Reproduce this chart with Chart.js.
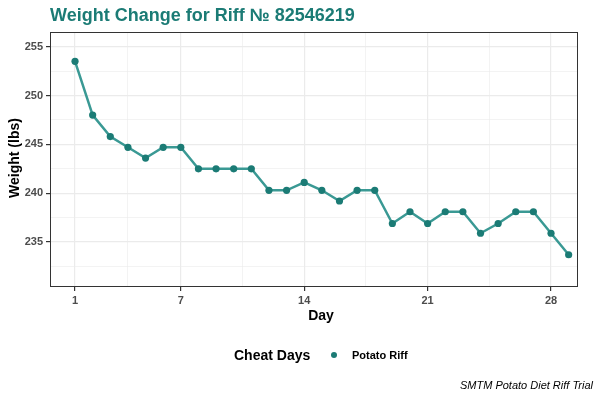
<!DOCTYPE html>
<html>
<head>
<meta charset="utf-8">
<script src="https://cdn.jsdelivr.net/npm/chart.js@4"></script>
<style>
  html, body { margin: 0; padding: 0; background: #fff; }
  #wrap { width: 600px; height: 400px; position: relative; }
</style>
</head>
<body>
<div id="wrap"><canvas id="weightChart"></canvas></div>
<script>
const days = [1,2,3,4,5,6,7,8,9,10,11,12,13,14,15,16,17,18,19,20,21,22,23,24,25,26,27,28,29];
const weights = [253.5,248.0,245.8,244.7,243.6,244.7,244.7,242.5,242.5,242.5,242.5,240.3,240.3,241.1,240.3,239.2,240.3,240.3,236.9,238.1,236.9,238.1,238.1,235.9,236.9,238.1,238.1,235.9,233.7];
const xMajor = [1,7,14,21,28];
const xMinor = [4,10.5,17.5,24.5];
const yMajor = [235,240,245,250,255];
const yMinor = [232.5,237.5,242.5,247.5,252.5];

const teal = '#1b7b75';
const font = 'Liberation Sans, Arial, Helvetica, sans-serif';

// ggplot-ish text around the panel
const extras = {
  id: 'extras',
  afterDraw(chart) {
    const ctx = chart.ctx;
    const a = chart.chartArea;
    ctx.save();
    // panel border
    ctx.strokeStyle = '#333333';
    ctx.lineWidth = 1;
    ctx.strokeRect(a.left + 0.5, a.top + 0.5, a.right - a.left - 1, a.bottom - a.top - 1);

    ctx.fillStyle = teal;
    ctx.font = 'bold 18px ' + font;
    ctx.textBaseline = 'alphabetic';
    ctx.textAlign = 'left';
    ctx.fillText('Weight Change for Riff \u2116 82546219', a.left, 21);

    // axis titles
    ctx.fillStyle = '#000';
    ctx.font = 'bold 14px ' + font;
    ctx.textAlign = 'center';
    ctx.fillText('Day', 321, 320);
    ctx.save();
    ctx.translate(19, 158);
    ctx.rotate(-Math.PI / 2);
    ctx.fillText('Weight (lbs)', 0, 0);
    ctx.restore();

    // legend
    ctx.textAlign = 'left';
    ctx.fillText('Cheat Days', 234, 360);
    ctx.fillStyle = teal;
    ctx.beginPath();
    ctx.arc(334, 355, 3, 0, Math.PI * 2);
    ctx.fill();
    ctx.fillStyle = '#000';
    ctx.font = 'bold 11px ' + font;
    ctx.fillText('Potato Riff', 352, 359);

    // caption
    ctx.font = 'italic 11px ' + font;
    ctx.textAlign = 'right';
    ctx.fillText('SMTM Potato Diet Riff Trial', 593, 389);
    ctx.restore();
  }
};

const gridStyle = (majors) => ({
  color: '#ebebeb',
  lineWidth: (c) => majors.includes(c.tick && c.tick.value) ? 1.2 : 0.6,
  tickColor: (c) => majors.includes(c.tick && c.tick.value) ? '#333333' : 'rgba(0,0,0,0)',
  tickLength: 4,
  drawTicks: true
});

new Chart(document.getElementById('weightChart'), {
  type: 'line',
  data: {
    labels: days,
    datasets: [{
      label: 'Potato Riff',
      data: days.map((d, i) => ({ x: d, y: weights[i] })),
      borderColor: '#3a9994',
      borderWidth: 2.5,
      backgroundColor: teal,
      pointBackgroundColor: teal,
      pointBorderWidth: 0,
      pointRadius: 3.6,
      tension: 0
    }]
  },
  options: {
    responsive: true,
    maintainAspectRatio: false,
    animation: false,
    layout: { padding: { left: 0, top: 32, right: 22, bottom: 73 } },
    plugins: {
      legend: { display: false },
      title: { display: false },
      tooltip: { enabled: false }
    },
    scales: {
      x: {
        type: 'linear',
        min: -0.42,
        max: 29.53,
        border: { display: false },
        afterBuildTicks: (s) => { s.ticks = xMajor.concat(xMinor).map(v => ({ value: v })); },
        afterFit: (s) => { s.height = 40; },
        grid: gridStyle(xMajor),
        ticks: {
          autoSkip: false,
          maxRotation: 0,
          padding: 3,
          color: '#4d4d4d',
          font: { family: font, size: 11, weight: 'bold' },
          callback: (v) => xMajor.includes(v) ? String(v) : ''
        }
      },
      y: {
        min: 230.4,
        max: 256.5,
        border: { display: false },
        afterBuildTicks: (s) => { s.ticks = yMajor.concat(yMinor).map(v => ({ value: v })); },
        afterFit: (s) => { s.width = 50; },
        grid: gridStyle(yMajor),
        ticks: {
          autoSkip: false,
          padding: 3,
          color: '#4d4d4d',
          font: { family: font, size: 11, weight: 'bold' },
          callback: (v) => yMajor.includes(v) ? String(v) : ''
        }
      }
    }
  },
  plugins: [extras]
});
</script>
</body>
</html>
